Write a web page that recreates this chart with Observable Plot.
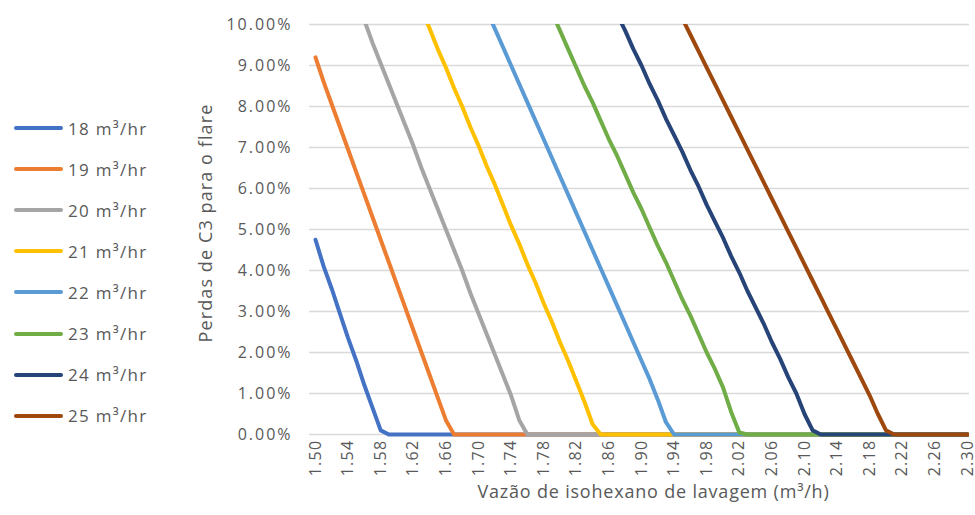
<!DOCTYPE html>
<html><head><meta charset="utf-8">
<script src="https://cdn.jsdelivr.net/npm/d3@7"></script>
<script src="https://cdn.jsdelivr.net/npm/@observablehq/plot@0.6"></script>
<style>
body{margin:0;background:#fff;}
#wrap{position:relative;width:975px;height:515px;font-family:"Open Sans",sans-serif;}
#legend{position:absolute;left:0;top:0;}
.item{position:absolute;left:14px;height:24px;display:flex;align-items:center;white-space:nowrap;}
.sw{width:49px;height:4px;border-radius:2px;margin-right:5px;}
.lab{font-size:17px;color:#595959;letter-spacing:1.3px;}
#wrap g[aria-label="x-axis tick label"] text {font-size:16px;letter-spacing:1.3px;}
#wrap g[aria-label="y-axis tick label"] text {font-size:16px;letter-spacing:2px;}
</style></head><body><div id="wrap"><div id="legend"></div></div>
<script>
// ---- data ----
const seriesNames = ["18 m³/hr","19 m³/hr","20 m³/hr","21 m³/hr","22 m³/hr","23 m³/hr","24 m³/hr","25 m³/hr"];
const seriesColors = ["#4472C4","#ED7D31","#A5A5A5","#FFC000","#5B9BD5","#70AD47","#264478","#9E480E"];
// x of first value of each series (values sampled every 0.01 m³/h)
const seriesStart = [1.50, 1.50, 1.55, 1.63, 1.71, 1.79, 1.87, 1.95];
const xStep = 0.01;
const xEnd = 2.30; // each series stays at 0 up to the end of the range
// values in %
const s18 = [4.75,4.10,3.55,2.95,2.35,1.80,1.20,0.65,0.10,0];
const s19 = [9.20,8.60,8.05,7.50,6.95,6.40,5.85,5.30,4.75,4.20,3.65,3.10,2.55,2.00,1.45,0.90,0.35,0];
const s20 = [10.60,10.10,9.55,9.05,8.55,8.05,7.55,7.05,6.50,6.00,5.50,5.00,4.50,4.00,3.45,2.95,2.45,1.95,1.45,0.95,0.35,0];
const s21 = [10.40,9.90,9.40,8.95,8.45,8.00,7.50,7.05,6.55,6.10,5.60,5.10,4.65,4.15,3.70,3.20,2.75,2.25,1.80,1.30,0.80,0.25,0];
const s22 = [10.35,9.90,9.45,9.00,8.55,8.10,7.65,7.20,6.75,6.30,5.85,5.40,4.95,4.50,4.05,3.60,3.15,2.70,2.25,1.80,1.35,0.85,0.30,0];
const s23 = [10.30,9.85,9.40,8.95,8.50,8.10,7.65,7.20,6.80,6.35,5.90,5.50,5.05,4.60,4.20,3.75,3.30,2.90,2.45,2.00,1.60,1.15,0.55,0.05,0];
const s24 = [10.25,9.85,9.40,9.00,8.55,8.15,7.70,7.30,6.90,6.45,6.05,5.60,5.20,4.80,4.35,3.95,3.50,3.10,2.70,2.25,1.85,1.40,1.00,0.50,0.10,0];
const s25 = [10.15,9.75,9.35,8.95,8.55,8.15,7.75,7.35,6.95,6.55,6.15,5.75,5.35,4.95,4.55,4.15,3.75,3.35,2.95,2.55,2.15,1.75,1.35,0.95,0.50,0.10,0];
const seriesValues = [s18,s19,s20,s21,s22,s23,s24,s25];
const xTicks = [1.50,1.54,1.58,1.62,1.66,1.70,1.74,1.78,1.82,1.86,1.90,1.94,1.98,2.02,2.06,2.10,2.14,2.18,2.22,2.26,2.30];
const yTicks = [0,0.01,0.02,0.03,0.04,0.05,0.06,0.07,0.08,0.09,0.10];
const xLabel = "Vazão de isohexano de lavagem (m³/h)";
const yLabel = "Perdas de C3 para o flare";

// ---- table ----
const rows = [];
seriesValues.forEach((vals, k) => {
  vals.forEach((v, i) => rows.push({series: seriesNames[k], x: +(seriesStart[k] + i * xStep).toFixed(2), y: v / 100}));
  rows.push({series: seriesNames[k], x: xEnd, y: 0});
});

const textColor = "#595959";
const chart = Plot.plot({
  width: 975,
  height: 515,
  marginLeft: 309,
  marginRight: 6,
  marginTop: 24,
  marginBottom: 78,
  style: {fontFamily: "'Open Sans', sans-serif", fontSize: "16px", color: textColor, background: "#fff", overflow: "visible"},
  x: {domain: [1.5, 2.3], insetLeft: 6, insetRight: 2},
  y: {domain: [0, 0.10], insetBottom: 3},
  color: {domain: seriesNames, range: seriesColors},
  marks: [
    Plot.gridY(yTicks, {stroke: "#D9D9D9", strokeOpacity: 1, strokeWidth: 1.5}),
    Plot.axisY(yTicks, {tickSize: 0, tickPadding: 17, tickFormat: d3.format(".2%"), fill: textColor, label: null}),
    Plot.axisX(xTicks, {tickSize: 0, tickPadding: 2, tickRotate: -90, tickFormat: d3.format(".2f"), fill: textColor, label: null}),
    Plot.line(rows, {x: "x", y: "y", z: "series", stroke: "series", strokeWidth: 4, strokeLinejoin: "round", strokeLinecap: "round", clip: true}),
    Plot.text([yLabel], {frameAnchor: "left", textAnchor: "middle", dx: -103, dy: -8, rotate: -90, fontSize: 18, fill: textColor}),
    Plot.text([xLabel], {frameAnchor: "bottom", textAnchor: "middle", dx: 14, dy: 60, fontSize: 18, fill: textColor})
  ]
});
document.getElementById("wrap").appendChild(chart);
// letter spacing of the axis titles
d3.select(chart).selectAll("text").each(function() {
  const t = this.textContent;
  if (t === yLabel) this.setAttribute("letter-spacing", "1.1");
  if (t === xLabel) this.setAttribute("letter-spacing", "0.8");
});

const legend = document.getElementById("legend");
seriesNames.forEach((name, i) => {
  const item = document.createElement("div");
  item.className = "item";
  item.style.top = (128 + i * 41.1 - 12) + "px";
  const sw = document.createElement("div");
  sw.className = "sw";
  sw.style.background = seriesColors[i];
  const lab = document.createElement("span");
  lab.className = "lab";
  lab.textContent = name;
  item.appendChild(sw); item.appendChild(lab);
  legend.appendChild(item);
});
</script></body></html>
